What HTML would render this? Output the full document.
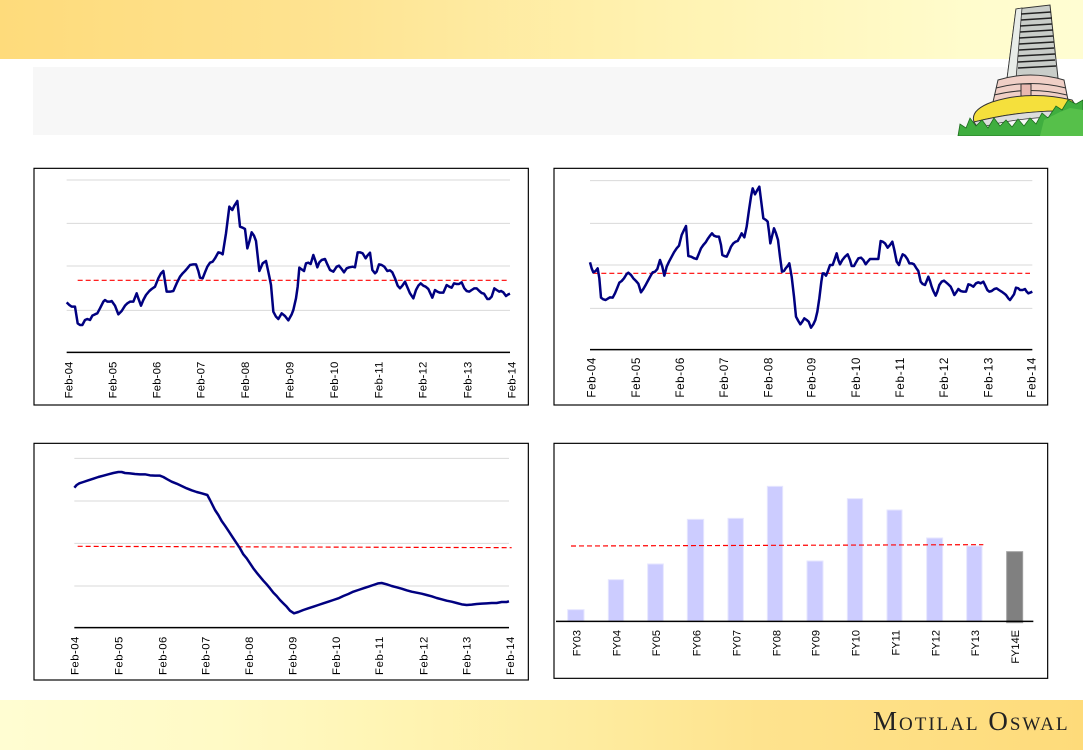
<!DOCTYPE html>
<html><head><meta charset="utf-8"><style>
html,body{margin:0;padding:0;}
body{width:1083px;height:750px;position:relative;overflow:hidden;background:#fff;font-family:"Liberation Sans",sans-serif;}
.hdr{position:absolute;left:0;top:0;width:1083px;height:59px;background:linear-gradient(to right,#fedb7b 0%,#fee391 30%,#fff2b0 60%,#fffccd 90%,#fffdd2 100%);}
.gray{position:absolute;left:33px;top:67px;width:1015px;height:68px;background:#f7f7f7;}
.ftr{position:absolute;left:0;top:700px;width:1083px;height:50px;background:linear-gradient(to right,#fffdd2 0%,#fffac6 20%,#fff5b5 35%,#fee999 60%,#fee38e 70%,#fedb7a 100%);}
.logo{position:absolute;left:873px;top:704px;font-family:"Liberation Serif",serif;font-variant:small-caps;font-size:27px;letter-spacing:2px;color:#222;line-height:34px;}
svg{position:absolute;}
</style></head><body>
<div class="hdr"></div>
<div class="gray"></div>

<!-- building -->
<svg style="left:955px;top:0" width="128" height="136" viewBox="955 0 128 136">
  <polygon points="1016,9 1050,5 1058,78 1007,79" fill="#c9cdc9" stroke="#333" stroke-width="1"/>
  <polygon points="1016,9 1022,8 1016,79 1007,79" fill="#e8ece8" stroke="#333" stroke-width="0.8"/>
  <g stroke="#222" stroke-width="1.6">
    <line x1="1021" y1="14" x2="1051" y2="12"/><line x1="1021" y1="20" x2="1052" y2="18"/>
    <line x1="1020" y1="26" x2="1052" y2="24"/><line x1="1020" y1="32" x2="1053" y2="30"/>
    <line x1="1019" y1="38" x2="1053" y2="36"/><line x1="1019" y1="44" x2="1054" y2="42"/>
    <line x1="1019" y1="50" x2="1054" y2="48"/><line x1="1018" y1="56" x2="1055" y2="54"/>
    <line x1="1018" y1="62" x2="1055" y2="60"/><line x1="1018" y1="68" x2="1056" y2="66"/>
  </g>
  <path d="M998,80 Q1030,70 1064,80 L1068,100 Q1030,92 993,102 Z" fill="#f0cfc6" stroke="#333" stroke-width="1"/>
  <path d="M996,88 Q1030,79 1066,88" fill="none" stroke="#333" stroke-width="1"/>
  <path d="M994,95 Q1030,86 1067,95" fill="none" stroke="#333" stroke-width="1"/>
  <rect x="1021" y="84" width="10" height="12" fill="#e8b8b0" stroke="#333" stroke-width="1"/>
  <path d="M992,102 Q1030,90 1072,100 L1080,112 Q1030,108 974,122 Q970,110 992,102 Z" fill="#f5e03c" stroke="#333" stroke-width="1"/>
  <path d="M974,122 Q1030,108 1080,112 L1080,118 Q1030,114 978,128 Z" fill="#ddd" stroke="#333" stroke-width="0.8"/>
  <path d="M958,136 L960,124 L966,128 L970,118 L976,126 L982,120 L988,128 L994,118 L1000,126 L1006,120 L1012,127 L1018,119 L1024,126 L1030,118 L1036,124 L1042,113 L1048,118 L1056,106 L1062,110 L1068,100 L1076,104 L1083,100 L1083,136 Z" fill="#3fae3f" stroke="#1d6b1d" stroke-width="0.8"/>
  <path d="M1040,136 L1044,120 L1052,116 L1060,112 L1070,108 L1083,110 L1083,136 Z" fill="#56c04a"/>
</svg>

<!-- Chart 1 -->
<svg style="left:30px;top:165px" width="500" height="245" viewBox="0 0 1500 735">
  <rect x="12" y="10" width="1483" height="710" fill="#fff" stroke="#000" stroke-width="3.5"/>
  <g stroke="#d9d9d9" stroke-width="3">
    <line x1="110" y1="45" x2="1440" y2="45"/><line x1="110" y1="175" x2="1440" y2="175"/>
    <line x1="110" y1="303" x2="1440" y2="303"/><line x1="110" y1="436" x2="1440" y2="436"/>
  </g>
  <line x1="110" y1="562" x2="1440" y2="562" stroke="#000" stroke-width="4.5"/>
  <line x1="143" y1="346" x2="1438" y2="346" stroke="#ff0000" stroke-width="3.5" stroke-dasharray="15 9"/>
  <polyline fill="none" stroke="#000080" stroke-width="7.5" stroke-linejoin="round" points="110,412 118,420 125,425 135,425 143,475 150,480 157,480 165,465 172,462 180,465 187,452 195,448 202,445 210,430 220,410 225,405 232,410 240,410 245,408 255,422 265,448 275,438 285,422 292,415 300,410 310,410 320,385 325,400 333,422 340,405 348,390 358,378 365,372 375,365 385,340 393,325 400,318 410,380 420,380 430,378 440,355 450,335 458,325 465,318 472,310 480,300 490,298 498,298 505,318 510,338 518,340 525,322 532,305 540,293 548,290 555,280 565,262 572,264 578,268 588,205 598,125 607,135 613,122 622,108 630,185 638,188 645,192 652,250 658,230 665,202 672,212 678,228 688,318 698,295 708,288 718,335 723,360 730,440 738,455 745,462 755,445 765,453 775,466 785,448 790,435 798,400 803,365 808,308 815,313 822,318 828,295 835,293 842,297 850,270 857,290 862,307 868,292 875,285 885,282 892,298 900,315 910,320 920,305 927,302 935,312 942,322 950,310 958,307 968,305 975,307 983,262 990,262 998,265 1007,280 1012,272 1020,263 1027,315 1035,325 1040,320 1047,298 1055,300 1063,305 1072,318 1080,316 1087,322 1095,340 1103,362 1110,370 1117,362 1125,350 1130,362 1140,385 1150,400 1158,375 1165,362 1172,355 1180,362 1187,365 1195,372 1200,383 1207,398 1215,375 1222,380 1230,383 1240,383 1250,360 1258,365 1265,368 1272,355 1280,357 1287,357 1295,352 1303,370 1310,378 1318,380 1325,375 1333,370 1340,370 1348,378 1355,384 1362,386 1372,402 1378,402 1385,395 1393,370 1400,375 1408,380 1413,378 1420,382 1428,393 1435,388 1440,386"/>
  <g font-family="Liberation Sans, sans-serif" font-size="34" fill="#000" text-anchor="end">
    <text transform="translate(127,590) rotate(-90)" textLength="110">Feb-04</text>
    <text transform="translate(259,590) rotate(-90)" textLength="110">Feb-05</text>
    <text transform="translate(392,590) rotate(-90)" textLength="110">Feb-06</text>
    <text transform="translate(524,590) rotate(-90)" textLength="110">Feb-07</text>
    <text transform="translate(657,590) rotate(-90)" textLength="110">Feb-08</text>
    <text transform="translate(790,590) rotate(-90)" textLength="110">Feb-09</text>
    <text transform="translate(924,590) rotate(-90)" textLength="110">Feb-10</text>
    <text transform="translate(1057,590) rotate(-90)" textLength="110">Feb-11</text>
    <text transform="translate(1190,590) rotate(-90)" textLength="110">Feb-12</text>
    <text transform="translate(1324,590) rotate(-90)" textLength="110">Feb-13</text>
    <text transform="translate(1457,590) rotate(-90)" textLength="110">Feb-14</text>
  </g>
</svg>

<!-- Chart 2 -->
<svg style="left:550px;top:165px" width="500" height="245" viewBox="0 0 1500 735">
  <rect x="12" y="10" width="1481" height="710" fill="#fff" stroke="#000" stroke-width="3.5"/>
  <g stroke="#d9d9d9" stroke-width="3">
    <line x1="120" y1="47" x2="1447" y2="47"/><line x1="120" y1="175" x2="1447" y2="175"/>
    <line x1="120" y1="300" x2="1447" y2="300"/><line x1="120" y1="430" x2="1447" y2="430"/>
  </g>
  <line x1="120" y1="554" x2="1447" y2="554" stroke="#000" stroke-width="4.5"/>
  <line x1="130" y1="325" x2="1440" y2="325" stroke="#ff0000" stroke-width="3.5" stroke-dasharray="15 9"/>
  <polyline fill="none" stroke="#000080" stroke-width="7.5" stroke-linejoin="round" points="120,292 125,310 130,322 137,318 143,310 148,340 153,398 160,403 167,405 175,400 180,397 188,398 195,385 202,368 208,353 215,348 222,340 230,327 235,323 243,330 250,340 258,348 265,356 273,382 280,372 288,358 295,345 302,332 308,322 315,320 322,312 330,285 337,305 343,332 350,305 357,290 365,275 372,262 380,250 387,242 395,210 402,195 408,183 415,273 423,275 433,280 440,282 447,265 453,250 460,240 467,232 473,222 480,212 486,205 492,212 500,215 507,215 513,240 517,270 523,273 530,275 537,260 543,245 550,235 557,230 563,228 570,215 575,205 583,217 590,185 597,135 603,95 608,70 615,88 622,75 628,65 635,120 640,160 648,165 653,170 657,200 661,235 667,210 672,190 678,205 684,225 690,275 696,320 702,318 707,310 713,303 718,295 725,335 732,395 738,455 745,468 751,478 757,470 763,460 770,465 776,470 783,488 790,478 796,465 802,440 808,400 814,350 818,325 822,325 828,332 833,320 840,300 848,300 855,280 860,265 865,285 870,298 877,285 885,275 893,268 900,285 905,303 912,303 918,292 925,280 933,278 940,285 947,298 953,290 960,282 968,282 977,282 985,282 992,228 998,230 1005,235 1013,248 1020,240 1027,230 1033,255 1040,290 1047,300 1052,283 1058,268 1065,272 1072,282 1078,295 1085,295 1092,298 1098,308 1105,318 1112,350 1118,357 1125,360 1130,348 1135,335 1140,348 1145,365 1150,378 1157,392 1162,380 1168,360 1175,350 1182,347 1188,352 1195,358 1202,365 1208,378 1213,390 1218,383 1225,372 1232,378 1240,380 1248,380 1255,358 1262,360 1270,365 1278,355 1285,352 1292,355 1300,350 1305,360 1312,375 1318,380 1325,378 1333,372 1340,370 1347,375 1355,380 1362,385 1368,390 1375,400 1380,405 1385,398 1392,388 1398,368 1405,370 1410,375 1418,375 1425,372 1430,380 1435,385 1440,383 1447,380"/>
  <g font-family="Liberation Sans, sans-serif" font-size="35" fill="#000" text-anchor="end">
    <text transform="translate(137,578) rotate(-90)" textLength="120">Feb-04</text>
    <text transform="translate(270,578) rotate(-90)" textLength="120">Feb-05</text>
    <text transform="translate(402,578) rotate(-90)" textLength="120">Feb-06</text>
    <text transform="translate(534,578) rotate(-90)" textLength="120">Feb-07</text>
    <text transform="translate(667,578) rotate(-90)" textLength="120">Feb-08</text>
    <text transform="translate(797,578) rotate(-90)" textLength="120">Feb-09</text>
    <text transform="translate(930,578) rotate(-90)" textLength="120">Feb-10</text>
    <text transform="translate(1062,578) rotate(-90)" textLength="120">Feb-11</text>
    <text transform="translate(1194,578) rotate(-90)" textLength="120">Feb-12</text>
    <text transform="translate(1327,578) rotate(-90)" textLength="120">Feb-13</text>
    <text transform="translate(1457,578) rotate(-90)" textLength="120">Feb-14</text>
  </g>
</svg>

<!-- Chart 3 -->
<svg style="left:30px;top:440px" width="500" height="245" viewBox="0 0 1500 735">
  <rect x="12" y="10" width="1483" height="710" fill="#fff" stroke="#000" stroke-width="3.5"/>
  <g stroke="#d9d9d9" stroke-width="3">
    <line x1="133" y1="55" x2="1437" y2="55"/><line x1="133" y1="183" x2="1437" y2="183"/>
    <line x1="133" y1="310" x2="1437" y2="310"/><line x1="133" y1="438" x2="1437" y2="438"/>
  </g>
  <line x1="133" y1="563" x2="1437" y2="563" stroke="#000" stroke-width="4.5"/>
  <line x1="143" y1="319" x2="1445" y2="323" stroke="#ff0000" stroke-width="3.5" stroke-dasharray="15 9"/>
  <polyline fill="none" stroke="#000080" stroke-width="7.5" stroke-linejoin="round" points="133,143 140,135 148,130 160,126 175,121 190,116 205,111 220,107 235,103 250,99 265,96 275,96 285,99 300,100 315,102 330,103 345,103 360,106 375,107 390,107 400,111 412,118 425,125 440,131 455,138 470,145 485,151 500,156 515,160 532,165 540,180 555,210 565,225 575,243 585,257 597,275 608,292 620,310 630,325 640,343 650,355 660,370 670,385 680,398 690,410 700,422 710,433 720,445 730,458 740,468 750,480 760,490 770,500 780,512 792,520 805,516 820,510 835,505 850,500 865,495 880,490 895,485 910,480 925,475 940,468 955,462 970,455 985,450 1000,445 1015,440 1030,435 1045,430 1055,429 1070,433 1085,438 1100,442 1115,446 1130,451 1145,455 1160,458 1175,461 1190,465 1205,469 1220,474 1235,478 1250,482 1265,485 1280,489 1295,493 1310,495 1325,494 1340,492 1355,491 1370,490 1385,489 1400,489 1415,486 1430,486 1437,484"/>
  <g font-family="Liberation Sans, sans-serif" font-size="34" fill="#000" text-anchor="end">
    <text transform="translate(145,590) rotate(-90)" textLength="115">Feb-04</text>
    <text transform="translate(277,590) rotate(-90)" textLength="115">Feb-05</text>
    <text transform="translate(410,590) rotate(-90)" textLength="115">Feb-06</text>
    <text transform="translate(539,590) rotate(-90)" textLength="115">Feb-07</text>
    <text transform="translate(669,590) rotate(-90)" textLength="115">Feb-08</text>
    <text transform="translate(799,590) rotate(-90)" textLength="115">Feb-09</text>
    <text transform="translate(930,590) rotate(-90)" textLength="115">Feb-10</text>
    <text transform="translate(1059,590) rotate(-90)" textLength="115">Feb-11</text>
    <text transform="translate(1192,590) rotate(-90)" textLength="115">Feb-12</text>
    <text transform="translate(1322,590) rotate(-90)" textLength="115">Feb-13</text>
    <text transform="translate(1452,590) rotate(-90)" textLength="115">Feb-14</text>
  </g>
</svg>

<!-- Chart 4 -->
<svg style="left:550px;top:440px" width="500" height="245" viewBox="0 0 1500 735">
  <rect x="12" y="10" width="1481" height="705" fill="#fff" stroke="#000" stroke-width="3.5"/>
  <g fill="#ccccff" stroke="#e6e6ff" stroke-width="3">
    <rect x="53" y="509" width="49" height="35"/>
    <rect x="175" y="419" width="46" height="125"/>
    <rect x="293" y="372" width="47" height="172"/>
    <rect x="412" y="238" width="49" height="306"/>
    <rect x="534" y="235" width="46" height="309"/>
    <rect x="652" y="139" width="46" height="405"/>
    <rect x="771" y="363" width="48" height="181"/>
    <rect x="892" y="176" width="46" height="368"/>
    <rect x="1011" y="210" width="45" height="334"/>
    <rect x="1130" y="294" width="48" height="250"/>
    <rect x="1250" y="318" width="46" height="226"/>
  </g>
  <rect x="1370" y="335" width="48" height="213" fill="#808080" stroke="#a0a0a0" stroke-width="3"/>
  <line x1="63" y1="318" x2="1300" y2="314" stroke="#ff0000" stroke-width="3.5" stroke-dasharray="15 9"/>
  <line x1="18" y1="544" x2="1450" y2="544" stroke="#000" stroke-width="4.5"/>
  <g font-family="Liberation Sans, sans-serif" font-size="33" fill="#000" text-anchor="end">
    <text transform="translate(92,570) rotate(-90)">FY03</text>
    <text transform="translate(212,570) rotate(-90)">FY04</text>
    <text transform="translate(330,570) rotate(-90)">FY05</text>
    <text transform="translate(452,570) rotate(-90)">FY06</text>
    <text transform="translate(572,570) rotate(-90)">FY07</text>
    <text transform="translate(692,570) rotate(-90)">FY08</text>
    <text transform="translate(809,570) rotate(-90)">FY09</text>
    <text transform="translate(929,570) rotate(-90)">FY10</text>
    <text transform="translate(1049,570) rotate(-90)">FY11</text>
    <text transform="translate(1169,570) rotate(-90)">FY12</text>
    <text transform="translate(1287,570) rotate(-90)">FY13</text>
    <text transform="translate(1407,570) rotate(-90)">FY14E</text>
  </g>
</svg>

<div class="ftr"></div>
<div class="logo">Motilal Oswal</div>
</body></html>
